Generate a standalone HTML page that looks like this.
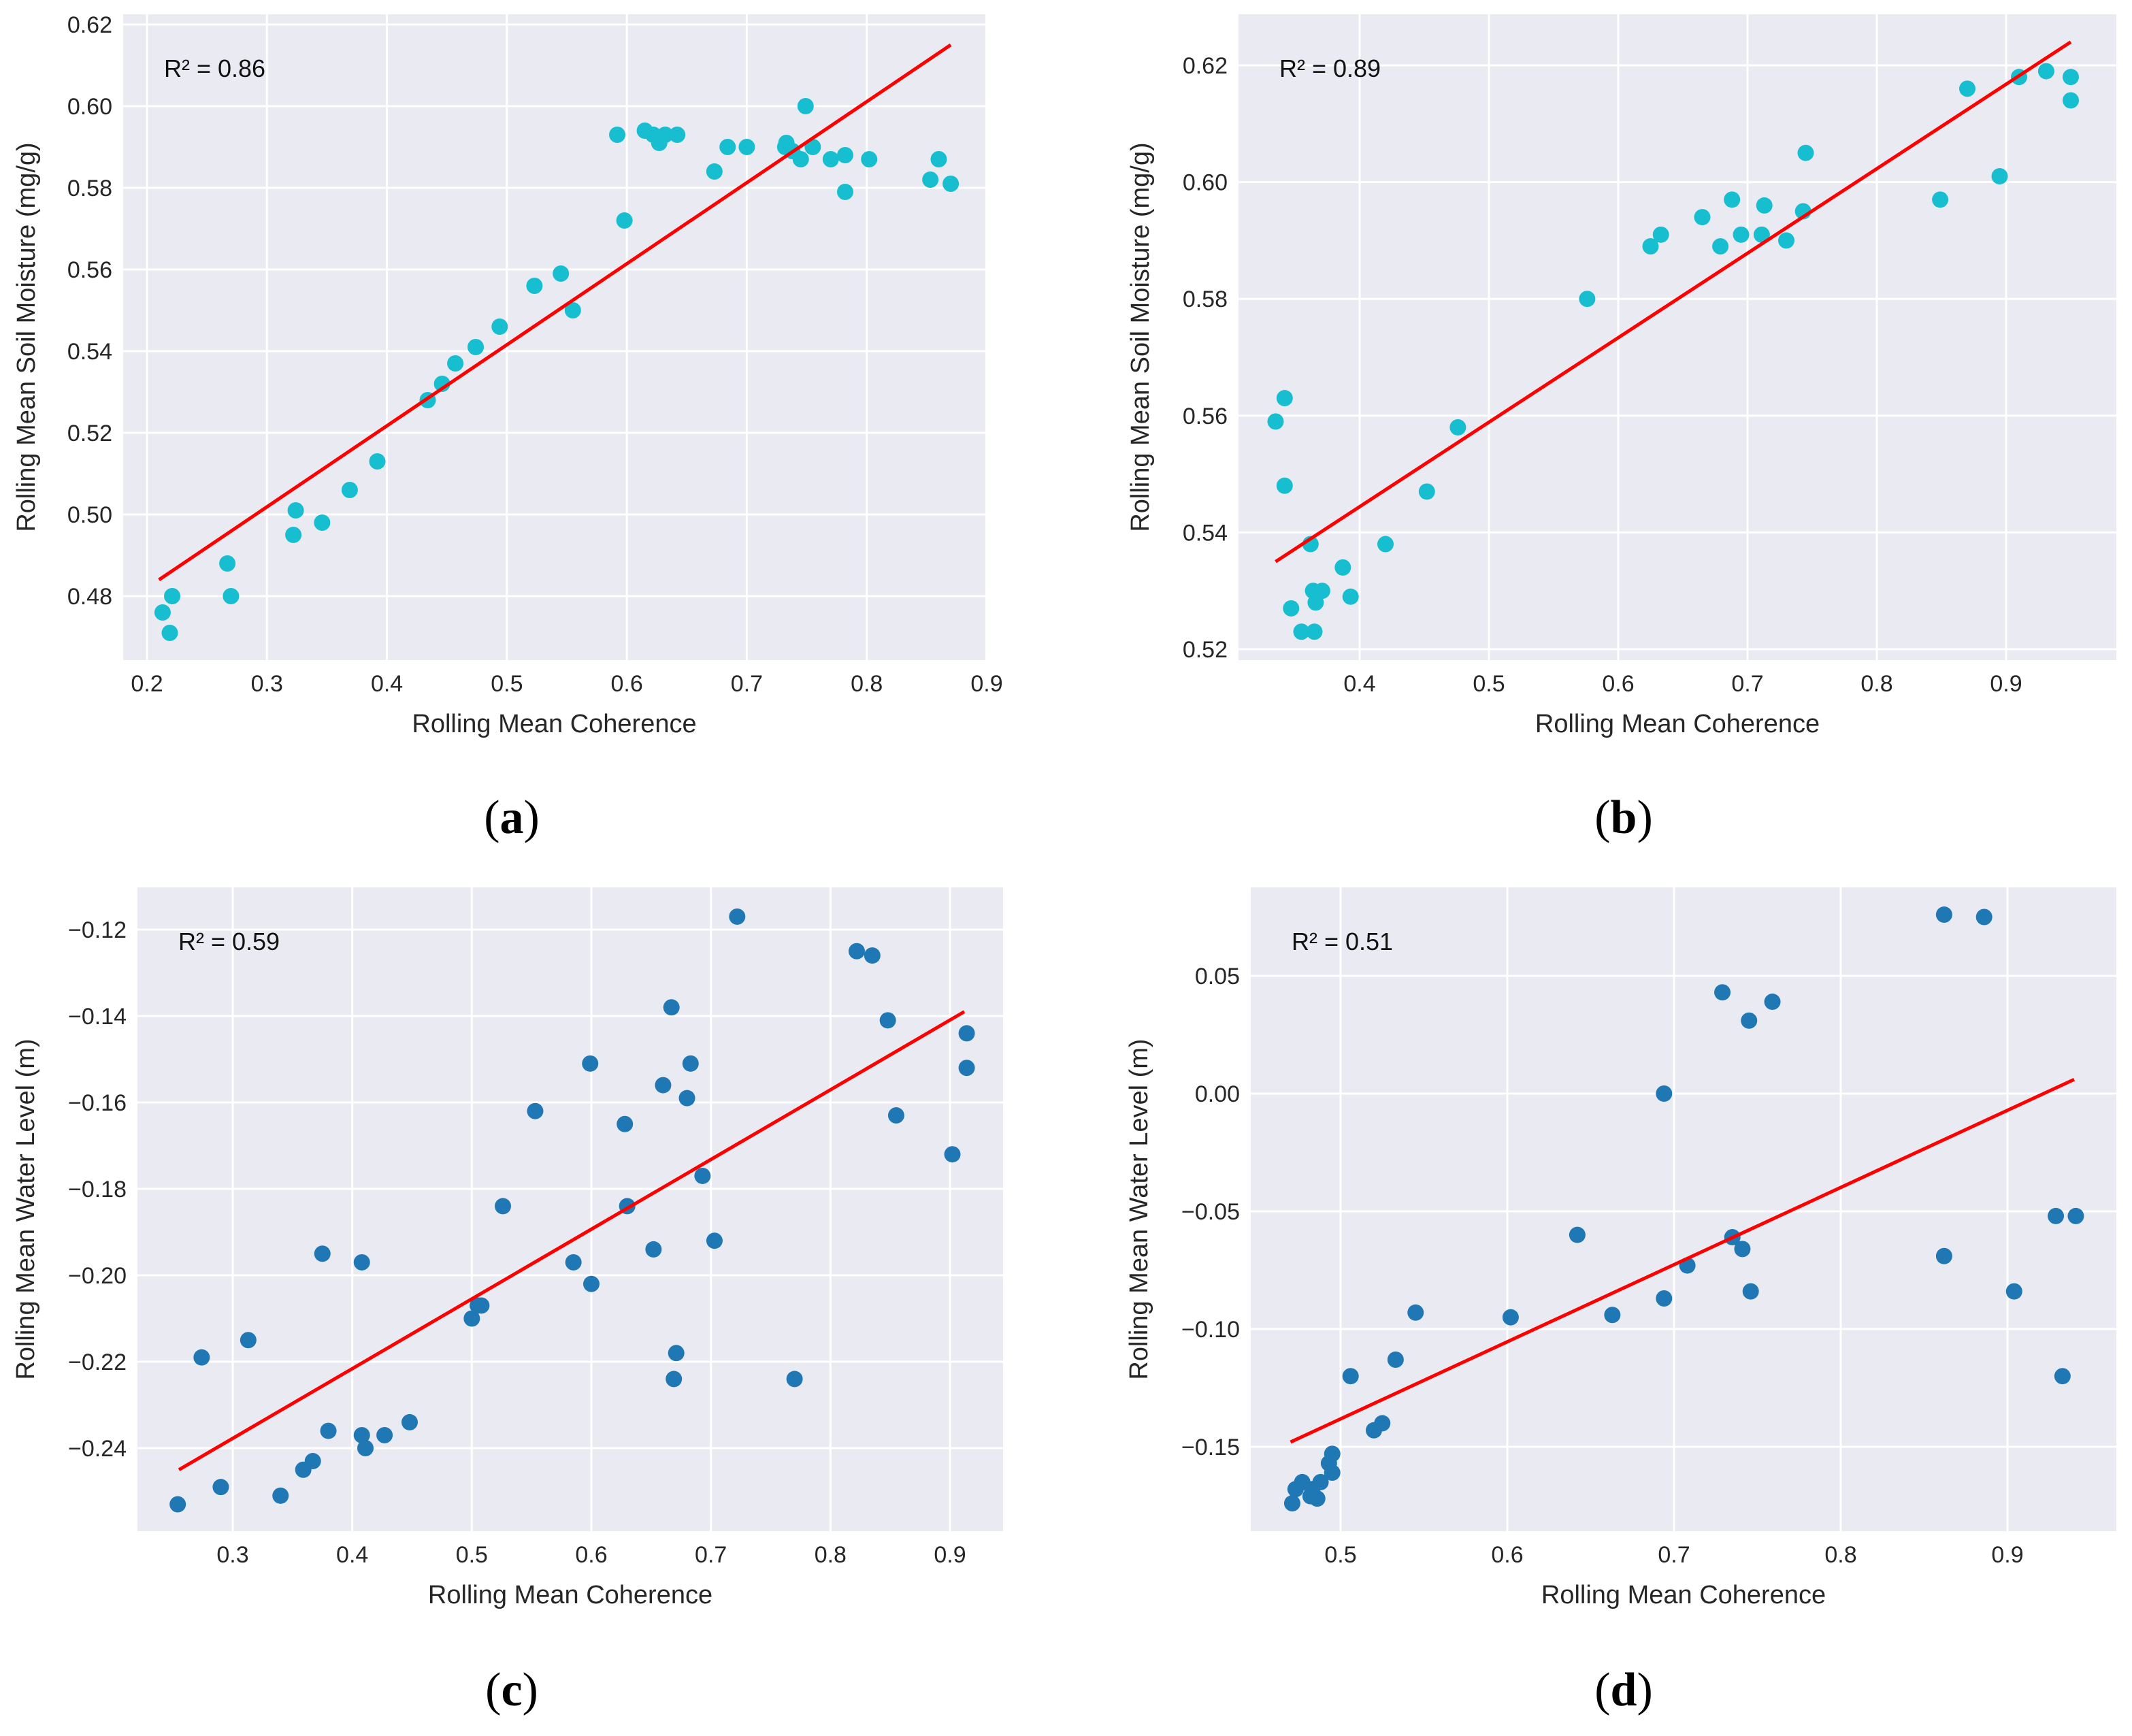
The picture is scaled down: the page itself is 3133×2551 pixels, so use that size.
<!DOCTYPE html>
<html><head><meta charset="utf-8">
<style>
body{margin:0;background:#fff;}
svg{display:block;font-family:"Liberation Sans",sans-serif;}
</style></head>
<body>
<svg id="fig" width="3133" height="2551" viewBox="0 0 3133 2551"></svg>
<script>
// ---- data (a) ----
const aX=[0.213,0.219,0.221,0.267,0.270,0.322,0.324,0.346,0.369,0.392,0.434,0.446,0.457,0.474,0.494,0.523,0.545,0.555,0.592,0.598,0.615,0.622,0.627,0.632,0.642,0.673,0.684,0.700,0.732,0.733,0.738,0.745,0.749,0.755,0.770,0.782,0.782,0.802,0.853,0.860,0.870];
const aY=[0.476,0.471,0.480,0.488,0.480,0.495,0.501,0.498,0.506,0.513,0.528,0.532,0.537,0.541,0.546,0.556,0.559,0.550,0.593,0.572,0.594,0.593,0.591,0.593,0.593,0.584,0.590,0.590,0.590,0.591,0.589,0.587,0.600,0.590,0.587,0.588,0.579,0.587,0.582,0.587,0.581];
const aFitX=[0.21,0.87]; const aFitY=[0.484,0.615];
const aXTicks=[0.2,0.3,0.4,0.5,0.6,0.7,0.8,0.9];
const aYTicks=[0.48,0.50,0.52,0.54,0.56,0.58,0.60,0.62];
// ---- data (b) ----
const bX=[0.335,0.342,0.342,0.347,0.355,0.362,0.364,0.365,0.366,0.371,0.387,0.393,0.420,0.452,0.476,0.576,0.625,0.633,0.665,0.679,0.688,0.695,0.711,0.713,0.730,0.743,0.745,0.849,0.870,0.895,0.910,0.931,0.950,0.950];
const bY=[0.559,0.563,0.548,0.527,0.523,0.538,0.530,0.523,0.528,0.530,0.534,0.529,0.538,0.547,0.558,0.580,0.589,0.591,0.594,0.589,0.597,0.591,0.591,0.596,0.590,0.595,0.605,0.597,0.616,0.601,0.618,0.619,0.618,0.614];
const bFitX=[0.335,0.95]; const bFitY=[0.535,0.624];
const bXTicks=[0.4,0.5,0.6,0.7,0.8,0.9];
const bYTicks=[0.52,0.54,0.56,0.58,0.60,0.62];
// ---- data (c) ----
const cX=[0.254,0.274,0.290,0.313,0.340,0.359,0.367,0.375,0.380,0.408,0.408,0.411,0.427,0.448,0.500,0.505,0.508,0.526,0.553,0.585,0.599,0.600,0.628,0.630,0.652,0.660,0.667,0.669,0.671,0.680,0.683,0.693,0.703,0.722,0.770,0.822,0.835,0.848,0.855,0.902,0.914,0.914];
const cY=[-0.253,-0.219,-0.249,-0.215,-0.251,-0.245,-0.243,-0.195,-0.236,-0.197,-0.237,-0.240,-0.237,-0.234,-0.210,-0.207,-0.207,-0.184,-0.162,-0.197,-0.151,-0.202,-0.165,-0.184,-0.194,-0.156,-0.138,-0.224,-0.218,-0.159,-0.151,-0.177,-0.192,-0.117,-0.224,-0.125,-0.126,-0.141,-0.163,-0.172,-0.144,-0.152];
const cFitX=[0.255,0.912]; const cFitY=[-0.245,-0.139];
const cXTicks=[0.3,0.4,0.5,0.6,0.7,0.8,0.9];
const cYTicks=[-0.24,-0.22,-0.20,-0.18,-0.16,-0.14,-0.12];
// ---- data (d) ----
const dX=[0.471,0.473,0.477,0.482,0.483,0.486,0.488,0.493,0.495,0.495,0.506,0.520,0.525,0.533,0.545,0.602,0.642,0.663,0.694,0.694,0.708,0.729,0.735,0.741,0.745,0.746,0.759,0.862,0.862,0.886,0.904,0.929,0.933,0.941];
const dY=[-0.174,-0.168,-0.165,-0.171,-0.168,-0.172,-0.165,-0.157,-0.153,-0.161,-0.120,-0.143,-0.140,-0.113,-0.093,-0.095,-0.060,-0.094,-0.087,0.000,-0.073,0.043,-0.061,-0.066,0.031,-0.084,0.039,0.076,-0.069,0.075,-0.084,-0.052,-0.120,-0.052];
const dFitX=[0.47,0.94]; const dFitY=[-0.148,0.006];
const dXTicks=[0.5,0.6,0.7,0.8,0.9];
const dYTicks=[-0.15,-0.10,-0.05,0.00,0.05];

const NS="http://www.w3.org/2000/svg";
const svg=document.getElementById('fig');
function mk(tag,attrs,parent){const e=document.createElementNS(NS,tag);for(const k in attrs)e.setAttribute(k,attrs[k]);(parent||svg).appendChild(e);return e;}
function fmt(v,d){return (v<0?'\u2212':'')+Math.abs(v).toFixed(d);}

function panel(cfg){
  const g=mk('g',{});
  
  
  const sx=v=>cfg.x0p+(v-cfg.x0v)*(cfg.x1p-cfg.x0p)/(cfg.x1v-cfg.x0v);
  const sy=v=>cfg.y0p+(v-cfg.y0v)*(cfg.y1p-cfg.y0p)/(cfg.y1v-cfg.y0v);
  const bg=mk('rect',{x:cfg.L,y:cfg.T,width:cfg.R-cfg.L,height:cfg.B-cfg.T,fill:'#eaeaf2'},g);
  
  
  cfg.xt.forEach(t=>{
    const x=sx(t);
    mk('line',{x1:x,x2:x,y1:cfg.T,y2:cfg.B,stroke:'#fff','stroke-width':3},g);
    const tx=mk('text',{x:x,y:cfg.B+46,'font-size':34,'text-anchor':'middle',fill:'#262626'},g);
    tx.textContent=fmt(t,1);
    
    
  });
  cfg.yt.forEach(t=>{
    const y=sy(t);
    mk('line',{x1:cfg.L,x2:cfg.R,y1:y,y2:y,stroke:'#fff','stroke-width':3},g);
    const ty=mk('text',{x:cfg.L-16,y:y+12,'font-size':34,'text-anchor':'end',fill:'#262626'},g);
    ty.textContent=fmt(t,2);
    
    
  });
  cfg.xs.forEach((v,i)=>{
    const c=mk('circle',{cx:sx(v),cy:sy(cfg.ys[i]),r:12,fill:cfg.color},g);
    
    
  });
  const fl=mk('line',{x1:sx(cfg.fx[0]),y1:sy(cfg.fy[0]),x2:sx(cfg.fx[1]),y2:sy(cfg.fy[1]),stroke:'#ff0000','stroke-width':5},g);
  
  
  const r2=mk('text',{x:cfg.L+60,y:cfg.T+92,'font-size':36,fill:'#111'},g);
  r2.textContent=cfg.r2;
  
  
  const xl=mk('text',{x:(cfg.L+cfg.R)/2,y:cfg.B+106,'font-size':38,'text-anchor':'middle',fill:'#262626'},g);
  xl.textContent='Rolling Mean Coherence';
  
  
  const yx=cfg.L-cfg.yoff, yy=(cfg.T+cfg.B)/2;
  const yl=mk('text',{x:yx,y:yy,'font-size':38,'text-anchor':'middle',fill:'#262626',transform:'rotate(-90 '+yx+' '+yy+')'},g);
  yl.textContent=cfg.ylab;
  
  
  const cap=mk('text',{x:cfg.capX,y:cfg.capY,'font-size':70,'text-anchor':'middle',fill:'#000','font-family':'Liberation Serif, serif'},g);
  cap.innerHTML='(<tspan font-weight="bold">'+cfg.id+'</tspan>)';
  
  
}

panel({id:'a',L:181,R:1448,T:21,B:970,x0v:0.2,x0p:216,x1v:0.9,x1p:1450,y0v:0.62,y0p:36,y1v:0.48,y1p:876,
  xt:aXTicks,yt:aYTicks,xs:aX,ys:aY,fx:aFitX,fy:aFitY,color:'#17becf',r2:'R² = 0.86',ylab:'Rolling Mean Soil Moisture (mg/g)',yoff:130,capX:752,capY:1224});
panel({id:'b',L:1820,R:3110,T:21,B:970,x0v:0.4,x0p:1998,x1v:0.9,x1p:2948,y0v:0.62,y0p:96,y1v:0.52,y1p:954,
  xt:bXTicks,yt:bYTicks,xs:bX,ys:bY,fx:bFitX,fy:bFitY,color:'#17becf',r2:'R² = 0.89',ylab:'Rolling Mean Soil Moisture (mg/g)',yoff:132,capX:2386,capY:1224});
panel({id:'c',L:202,R:1474,T:1304,B:2250,x0v:0.3,x0p:342,x1v:0.9,x1p:1396,y0v:-0.12,y0p:1366,y1v:-0.24,y1p:2128,
  xt:cXTicks,yt:cYTicks,xs:cX,ys:cY,fx:cFitX,fy:cFitY,color:'#1f77b4',r2:'R² = 0.59',ylab:'Rolling Mean Water Level (m)',yoff:152,capX:752,capY:2506});
panel({id:'d',L:1838,R:3110,T:1304,B:2250,x0v:0.5,x0p:1970,x1v:0.9,x1p:2950,y0v:0.05,y0p:1434,y1v:-0.15,y1p:2126,
  xt:dXTicks,yt:dYTicks,xs:dX,ys:dY,fx:dFitX,fy:dFitY,color:'#1f77b4',r2:'R² = 0.51',ylab:'Rolling Mean Water Level (m)',yoff:152,capX:2386,capY:2506});
</script>
</body></html>
